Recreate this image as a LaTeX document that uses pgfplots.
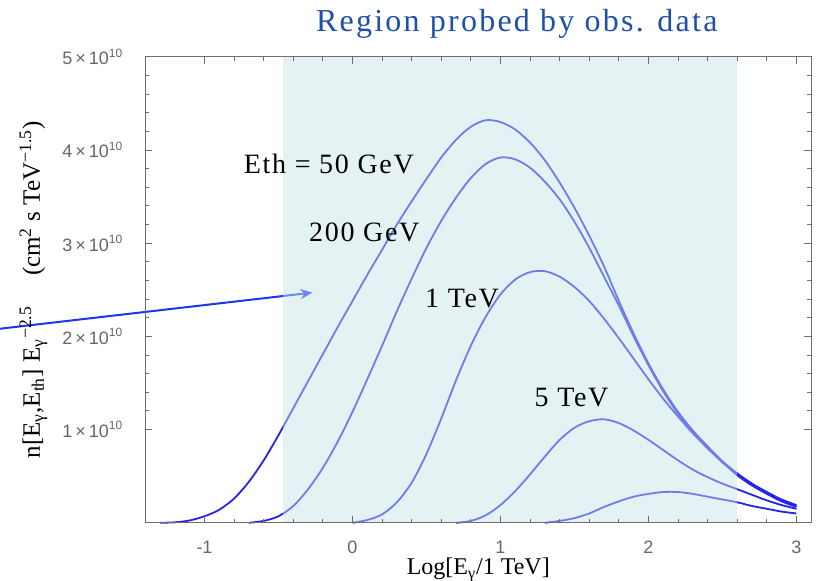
\documentclass[border=0pt]{standalone}
\usepackage{pgfplots}
\pgfplotsset{compat=1.18}
\usepackage{fontspec}
\setmainfont{Liberation Serif}
\setsansfont{Liberation Sans}
\newfontfamily\annfont[LetterSpace=6]{Liberation Serif}
\newfontfamily\titlefont[LetterSpace=7]{Liberation Serif}
\usetikzlibrary{arrows.meta}

\definecolor{curve}{RGB}{35,35,235}
\definecolor{probe}{RGB}{200,228,232}
\definecolor{arrowblue}{RGB}{25,55,240}
\definecolor{titleblue}{RGB}{30,80,170}
\definecolor{framegray}{RGB}{110,110,110}

\tikzset{spec/.style={curve, line width=0.9pt, smooth, mark=none}}

\begin{document}
\begin{tikzpicture}
\begin{axis}[
    scale only axis,
    width=333pt, height=233pt,
    xmin=-1.40, xmax=3.10, ymin=0, ymax=5,
    axis on top, clip=false,
    axis line style={framegray, line width=0.6pt},
    tick style={framegray, line width=0.5pt},
    tick align=inside,
    major tick length=3.5pt, minor tick length=2pt,
    xtick={-1,0,1,2,3}, xticklabels={-1,0,1,2,3},
    ytick={1,2,3,4,5},
    yticklabels={1\,×\,10\textsuperscript{10},2\,×\,10\textsuperscript{10},3\,×\,10\textsuperscript{10},4\,×\,10\textsuperscript{10},5\,×\,10\textsuperscript{10}},
    minor x tick num=4, minor y tick num=4,
    ticklabel style={font=\sffamily\fontsize{9}{10}\selectfont, text=black!60},
    xticklabel style={yshift=-5.5pt},
    yticklabel style={xshift=-7.5pt},
    xlabel={Log[E\textsubscript{γ}/1 TeV]},
    ylabel={n[E\textsubscript{γ},E\textsubscript{th}] E\textsubscript{γ}\textsuperscript{−2.5}\hspace{1.2em}(cm\textsuperscript{2} s TeV\textsuperscript{−1.5})},
    xlabel style={at={(axis description cs:0.5,-0.101)}, anchor=center, font=\fontsize{12}{14}\selectfont},
    ylabel style={at={(axis description cs:-0.168,0.5)}, anchor=center, font=\fontsize{12.5}{14}\selectfont},
]
% Eth = 50 GeV
\addplot[spec] coordinates {
  (-1.3,0) (-1.2,0.005) (-1.1,0.025) (-1.0,0.07) (-0.9,0.14) (-0.8,0.26)
  (-0.7,0.44) (-0.6,0.67) (-0.5,0.94) (-0.4,1.23) (-0.3,1.52) (-0.2,1.81)
  (-0.1,2.10) (0.0,2.38) (0.1,2.66) (0.2,2.93) (0.3,3.20) (0.4,3.45)
  (0.5,3.69) (0.6,3.92) (0.7,4.11) (0.8,4.25) (0.9,4.32) (1.0,4.30)
  (1.1,4.22) (1.2,4.08) (1.3,3.89) (1.4,3.65) (1.5,3.38) (1.6,3.08)
  (1.7,2.75) (1.8,2.38) (1.9,2.03) (2.0,1.71) (2.1,1.43) (2.2,1.19)
  (2.3,0.99) (2.4,0.82) (2.5,0.66) (2.6,0.53) (2.7,0.42) (2.8,0.33)
  (2.9,0.25) (3.0,0.19)};
% 200 GeV
\addplot[spec] coordinates {
  (-0.7,0) (-0.6,0.02) (-0.5,0.07) (-0.4,0.18) (-0.3,0.36) (-0.2,0.59)
  (-0.1,0.87) (0.0,1.19) (0.1,1.54) (0.2,1.90) (0.3,2.27) (0.4,2.62)
  (0.5,2.95) (0.6,3.24) (0.7,3.49) (0.8,3.70) (0.9,3.85) (1.0,3.92)
  (1.1,3.90) (1.2,3.81) (1.3,3.66) (1.4,3.47) (1.5,3.23) (1.6,2.95)
  (1.7,2.64) (1.8,2.33) (1.9,2.00) (2.0,1.69) (2.1,1.41) (2.2,1.17)
  (2.3,0.97) (2.4,0.80) (2.5,0.65) (2.6,0.52) (2.7,0.41) (2.8,0.32)
  (2.9,0.24) (3.0,0.18)};
% 1 TeV
\addplot[spec] coordinates {
  (0.0,0) (0.1,0.03) (0.2,0.09) (0.3,0.22) (0.4,0.43) (0.5,0.74)
  (0.6,1.12) (0.7,1.53) (0.8,1.90) (0.9,2.21) (1.0,2.45) (1.1,2.61)
  (1.2,2.69) (1.3,2.70) (1.4,2.64) (1.5,2.53) (1.6,2.38) (1.7,2.19)
  (1.8,1.98) (1.9,1.76) (2.0,1.54) (2.1,1.33) (2.2,1.14) (2.3,0.96)
  (2.4,0.80) (2.5,0.65) (2.6,0.51) (2.7,0.40) (2.8,0.31) (2.9,0.23)
  (3.0,0.17)};
% 5 TeV
\addplot[spec] coordinates {
  (0.7,0) (0.8,0.02) (0.9,0.08) (1.0,0.19) (1.1,0.34) (1.2,0.52)
  (1.3,0.71) (1.4,0.89) (1.5,1.02) (1.6,1.09) (1.7,1.11) (1.8,1.07)
  (1.9,0.99) (2.0,0.89) (2.1,0.78) (2.2,0.67) (2.3,0.57) (2.4,0.49)
  (2.5,0.42) (2.6,0.36) (2.7,0.30) (2.8,0.24) (2.9,0.19) (3.0,0.15)};
% highest threshold
\addplot[spec] coordinates {
  (1.3,0) (1.4,0.02) (1.5,0.05) (1.6,0.10) (1.7,0.17) (1.8,0.23)
  (1.9,0.28) (2.0,0.31) (2.1,0.33) (2.2,0.33) (2.3,0.31) (2.4,0.28)
  (2.5,0.25) (2.6,0.22) (2.7,0.18) (2.8,0.15) (2.9,0.12) (3.0,0.10)};

\draw[arrowblue, line width=1pt, -{Stealth[length=6pt,width=5pt]}]
  (axis cs:-2.45,2.07) -- (axis cs:-0.27,2.47);

% region probed by observational data
\addplot[draw=none, fill=probe, fill opacity=0.47, mark=none] coordinates {(-0.47,5) (2.60,5)} \closedcycle;

\node[font=\annfont\fontsize{14}{16}\selectfont] at (axis cs:-0.16,3.85) {Eth = 50 GeV};
\node[font=\annfont\fontsize{14}{16}\selectfont] at (axis cs:0.08,3.12) {200 GeV};
\node[font=\annfont\fontsize{14}{16}\selectfont] at (axis cs:0.74,2.41) {1 TeV};
\node[font=\annfont\fontsize{14}{16}\selectfont] at (axis cs:1.48,1.34) {5 TeV};
\node[font=\titlefont\fontsize{16}{18}\selectfont, text=titleblue] at (axis cs:1.11,5.35) {Region probed by obs. data};

\coordinate (bl) at (axis cs:-2.382,-0.621);
\coordinate (tr) at (axis cs:3.139,5.61);
\end{axis}
\pgfresetboundingbox
\useasboundingbox (bl) rectangle (tr);
\end{tikzpicture}
\end{document}
